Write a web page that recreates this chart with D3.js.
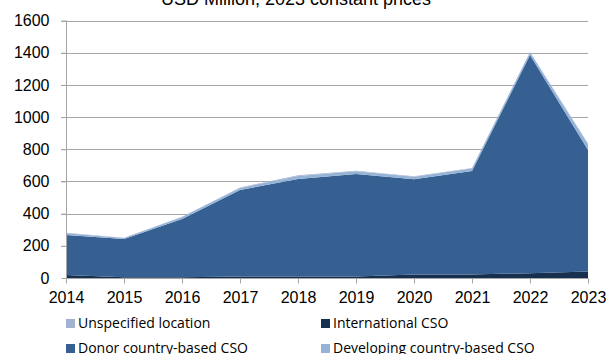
<!DOCTYPE html>
<html>
<head>
<meta charset="utf-8">
<script src="https://cdn.jsdelivr.net/npm/d3@7"></script>
<style>
  html, body { margin: 0; padding: 0; background: #fff; }
  svg { display: block; }
  text { font-family: "Liberation Sans", Arial, sans-serif; fill: #000; }
  .legend text { font-family: "Open Sans", "Liberation Sans", sans-serif; }
</style>
</head>
<body>
<svg id="chart" width="608" height="354"></svg>
<script>
// Flows to CSOs by location of the channel, USD million (2023 constant prices)
const years = [2014, 2015, 2016, 2017, 2018, 2019, 2020, 2021, 2022, 2023];
const internationalCSO = [18, 5, 5, 10, 10, 10, 22, 22, 30, 40];
const donorCSO        = [249, 237, 361, 537, 605, 636, 591, 643, 1355, 755];
const developingCSO   = [11, 6, 13, 13, 19, 17, 16, 15, 17, 35];
const unspecified     = [3, 2, 2, 3, 4, 3, 3, 3, 3, 5];
const yTicks = [0, 200, 400, 600, 800, 1000, 1200, 1400, 1600];

const seriesNames = ["International CSO", "Donor country-based CSO", "Developing country-based CSO", "Unspecified location"];
const seriesValues = [internationalCSO, donorCSO, developingCSO, unspecified];
const colors = ["#17304f", "#376092", "#95b3d7", "#a3b2d0"];

const rows = years.map((y, i) => {
  const r = { year: y };
  seriesNames.forEach((n, k) => r[n] = seriesValues[k][i]);
  return r;
});

const svg = d3.select("#chart");

const x = d3.scaleLinear().domain([2014, 2023]).range([66, 588]);
const y = d3.scaleLinear().domain([0, 1600]).range([278, 20.5]);

// Title
svg.append("text")
  .attr("x", 296).attr("y", 5)
  .attr("text-anchor", "middle")
  .style("font-size", "18px")
  .text("USD Million, 2023 constant prices");

// Horizontal gridlines
svg.append("g").selectAll("line")
  .data(yTicks.filter(t => t > 0))
  .join("line")
  .attr("x1", 61).attr("x2", 588)
  .attr("y1", d => Math.round(y(d)) + 0.5).attr("y2", d => Math.round(y(d)) + 0.5)
  .attr("stroke", "#a6a6a6").attr("stroke-width", 1);

// Stacked areas
const stack = d3.stack().keys(seriesNames);
const layers = stack(rows);
const area = d3.area()
  .x(d => x(d.data.year))
  .y0(d => y(d[0]))
  .y1(d => y(d[1]));

svg.append("g").selectAll("path")
  .data(layers)
  .join("path")
  .attr("d", area)
  .attr("fill", (d, i) => colors[i]);

// Y axis
const yAxis = d3.axisLeft(y).tickValues(yTicks).tickSize(5).tickPadding(12).tickFormat(d3.format("d"));
const gy = svg.append("g").attr("transform", "translate(66.5,0)").call(yAxis);
gy.select(".domain").attr("stroke", "#a6a6a6").attr("d", `M0,${y(1600)}V${y(0)}`);
gy.selectAll(".tick line").attr("stroke", "#a6a6a6");
gy.selectAll(".tick text").style("font-size", "16px").style("font-family", "Liberation Sans, Arial, sans-serif").attr("fill", "#000");

// X axis
const xAxis = d3.axisBottom(x).tickValues(years).tickSize(5).tickPadding(8).tickFormat(d3.format("d"));
const gx = svg.append("g").attr("transform", `translate(0,${Math.round(y(0)) + 0.5})`).call(xAxis);
gx.select(".domain").attr("stroke", "#a6a6a6").attr("d", `M${x(2014)},0H${x(2023)}`);
gx.selectAll(".tick line").attr("stroke", "#a6a6a6");
gx.selectAll(".tick text").style("font-size", "16px").style("font-family", "Liberation Sans, Arial, sans-serif").attr("fill", "#000");

// Legend (two columns)
const legendItems = [
  { name: "Unspecified location", color: colors[3], col: 0, row: 0 },
  { name: "International CSO", color: colors[0], col: 1, row: 0 },
  { name: "Donor country-based CSO", color: colors[1], col: 0, row: 1 },
  { name: "Developing country-based CSO", color: colors[2], col: 1, row: 1 }
];
const colX = [66, 321];
const rowY = [323, 348];
const lg = svg.append("g").attr("class", "legend");
const items = lg.selectAll("g").data(legendItems).join("g")
  .attr("transform", d => `translate(${colX[d.col]},${rowY[d.row]})`);
items.append("rect")
  .attr("x", 0).attr("y", -4).attr("width", 9).attr("height", 9)
  .attr("fill", d => d.color);
items.append("text")
  .attr("x", 12).attr("y", 0).attr("dy", "0.38em")
  .style("font-size", "14px")
  .text(d => d.name);
</script>
</body>
</html>
